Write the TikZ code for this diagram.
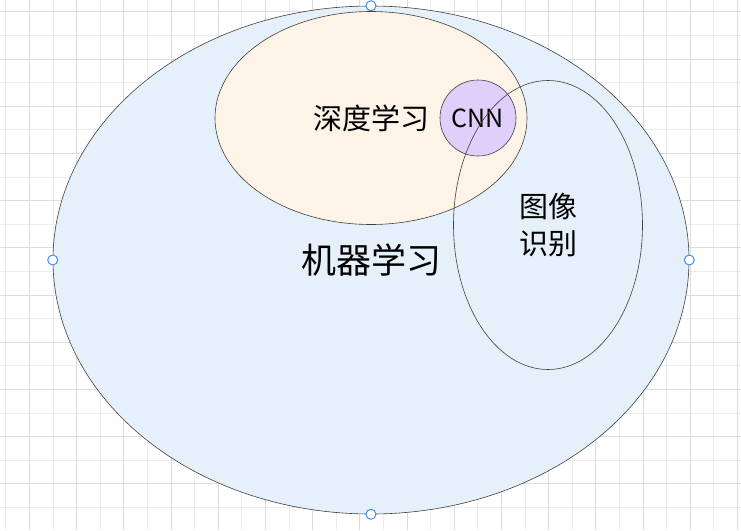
\documentclass[tikz,border=0pt]{standalone}
\usepackage{fontspec}
\setmainfont{Noto Sans CJK SC}
\usetikzlibrary{shapes.geometric}
\definecolor{gridminor}{RGB}{237,237,237}
\definecolor{gridmajor}{RGB}{220,220,220}
\definecolor{mlblue}{RGB}{230,240,251}
\definecolor{dlorange}{RGB}{253,243,231}
\definecolor{cnnpurple}{RGB}{224,207,251}
\definecolor{handleblue}{RGB}{45,135,240}
\tikzset{
  handle/.style={circle, draw=handleblue, fill=white, line width=.9pt, minimum size=10, inner sep=0}
}
\begin{document}
\begin{tikzpicture}[x=1pt,y=-1pt]

        \useasboundingbox (0,0) rectangle (741,530);
        \fill[white] (0,0) rectangle (741,530);

        \begin{scope}[line width=.8pt]
          \foreach \k in {0,...,31} \draw[gridminor] ({5.7+23.6*\k},0) -- ({5.7+23.6*\k},530);
          \foreach \k in {0,...,21} \draw[gridminor] (0,{11.7+23.6*\k}) -- (741,{11.7+23.6*\k});
          \foreach \k in {1,3,...,31} \draw[gridmajor] ({5.7+23.6*\k},0) -- ({5.7+23.6*\k},530);
          \foreach \k in {0,2,...,20} \draw[gridmajor] (0,{11.7+23.6*\k}) -- (741,{11.7+23.6*\k});
        \end{scope}

        \begin{scope}[every node/.style={ellipse, draw=black!75, line width=.6pt, inner sep=0}]
          \node[fill=mlblue, minimum width=636, minimum height=508, font=\fontsize{35}{40}\selectfont] (1) at (371,260) {机器学习};
          \node[fill=dlorange, minimum width=312, minimum height=213, font=\fontsize{29}{34}\selectfont] (2) at (371,118) {深度学习};
          \node[circle, fill=cnnpurple, minimum size=76, font=\fontsize{25}{30}\selectfont] (3) at (478,118) {CNN};
          \node[minimum width=189, minimum height=289, align=center, font=\fontsize{29}{37}\selectfont] (4) at (548,225) {图像\\识别};
        \end{scope}

        \node[handle] (5) at (1.north) {};
        \node[handle] (6) at (1.south) {};
        \node[handle] (7) at (1.west) {};
        \node[handle] (8) at (1.east) {};

      \end{tikzpicture}
\end{document}
